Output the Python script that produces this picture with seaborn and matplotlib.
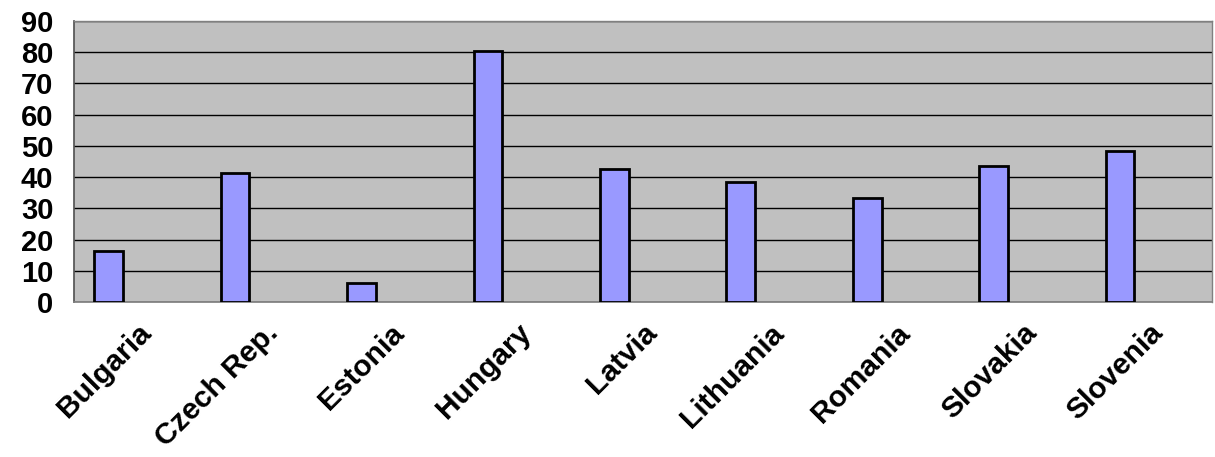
import numpy as np
import pandas as pd
import matplotlib
matplotlib.use("Agg")
import matplotlib.pyplot as plt
import seaborn as sns

countries = ["Bulgaria", "Czech Rep.", "Estonia", "Hungary", "Latvia",
             "Lithuania", "Romania", "Slovakia", "Slovenia"]
values = [16.3, 41.2, 6.0, 80.4, 42.6, 38.5, 33.3, 43.5, 48.4]
series_order = ["s1", "s2", "s3"]  # excel-style clustered slot, only first series filled

sns.set_theme(style="white")
plt.rcParams['font.family'] = ['Liberation Sans', 'DejaVu Sans']
plt.rcParams['text.color'] = 'black'
plt.rcParams['xtick.color'] = 'black'
plt.rcParams['ytick.color'] = 'black'

df = pd.DataFrame({"country": countries, "value": values, "series": "s1"})

fig = plt.figure(figsize=(12.15, 4.57), dpi=100)
ax = fig.add_axes([0.061, 0.339, 0.9365, 0.615])
ax.set_facecolor("#C0C0C0")

sns.barplot(data=df, x="country", y="value", hue="series", hue_order=series_order,
            palette=["#9999FF", "#9999FF", "#9999FF"], saturation=1, width=0.68, dodge=True,
            edgecolor="black", linewidth=2, legend=False, ax=ax, zorder=3)

ax.set_ylim(0, 90)
ax.set_yticks(np.arange(0, 91, 10))
ax.set_xlim(-0.5, len(countries) - 0.5)
ax.yaxis.grid(True, color="black", linewidth=1)
ax.set_axisbelow(True)

ax.set_xlabel("")
ax.set_ylabel("")
ax.set_xticks(np.arange(len(countries)))
ax.set_xticklabels(countries, rotation=45, ha="right", rotation_mode="anchor",
                   fontsize=21.5, fontweight="bold")
ax.tick_params(axis="x", which="major", length=0, pad=12)
ax.set_xticks(np.arange(-0.5, len(countries)), minor=True)
ax.tick_params(axis="x", which="minor", length=9, width=1, color="#555555", direction="out")
ax.tick_params(axis="y", length=8, width=1, color="#555555", direction="out", pad=7,
               labelsize=21)
for lab in ax.get_yticklabels():
    lab.set_fontweight("bold")

for side in ["top", "right"]:
    ax.spines[side].set_color("#808080")
    ax.spines[side].set_linewidth(1)
ax.spines["left"].set_color("#555555")
ax.spines["bottom"].set_color("#808080")

fig.savefig("out.png", dpi=100)
